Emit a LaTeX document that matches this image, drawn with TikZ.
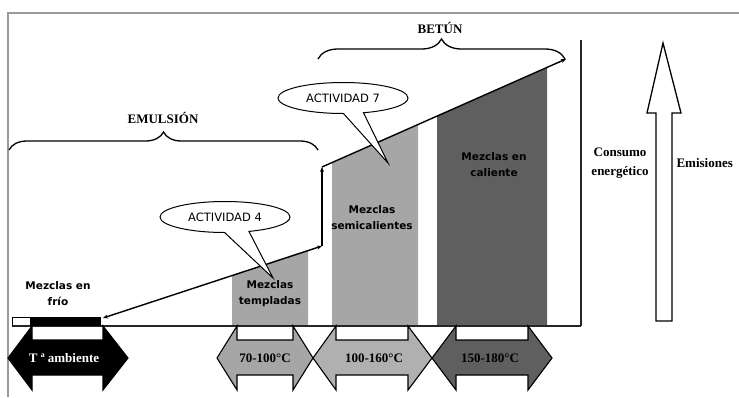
\documentclass[tikz,border=0pt]{standalone}
\usepackage{fontspec}
\setmainfont{Liberation Serif}
\newfontfamily\gillfont{DejaVu Sans}
\usetikzlibrary{shapes.geometric,shapes.callouts,decorations.pathreplacing,arrows.meta}
\definecolor{midgray}{HTML}{A6A6A6}
\definecolor{lightgraytwo}{HTML}{B0B0B0}
\definecolor{darkgraytwo}{HTML}{5F5F5F}
\definecolor{framegray}{HTML}{9A9A9A}
\newcommand\tarrow[5]{\filldraw[temparrow, fill=#5] (#1,358) -- (#2,326) -- (#2,340) -- (#3,340) -- (#3,326) -- (#4,358) -- (#3,390) -- (#3,375) -- (#2,375) -- (#2,390) -- cycle;}
\begin{document}
\begin{tikzpicture}[x=1pt,y=-1pt,
  axis/.style={line width=1.3pt, black!85},
  sanslabel/.style={font=\gillfont\bfseries\fontsize{10.5}{16}\selectfont, align=center},
  seriflabel/.style={font=\bfseries\fontsize{13}{19}\selectfont, align=center},
  trend/.style={line width=1.4pt},
  tipend/.style={-{Stealth[length=5pt,width=4pt]}},
  bubble/.style={ellipse callout, draw, fill=white, line width=1pt, minimum width=130pt, minimum height=31pt, inner sep=0pt, font=\gillfont\fontsize{11.5}{13}\selectfont},
  bracket/.style={decorate, decoration={brace, amplitude=#1}, line width=1.3pt},
  temparrow/.style={draw, line width=1.1pt},
]
\useasboundingbox (0,0) rectangle (739,397);
% frame
\draw[framegray, line width=1.5pt] (8,397) -- (8,13) -- (739,13);
% bars
\fill[midgray] (232,326) -- (232,275.2) -- (308,250) -- (308,326) -- cycle;
\fill[midgray] (332,326) -- (332,162.6) -- (418,124.7) -- (418,326) -- cycle;
\fill[darkgraytwo] (437,326) -- (437,116.3) -- (547,67.9) -- (547,326) -- cycle;
% axes
\draw[axis] (12,326) -- (581,326);
\draw[axis] (581,40) -- (581,326);
% cold bar
\draw[line width=1pt] (12,317) -- (32,317);
\draw[line width=1pt] (12,317) -- (12,326);
\fill[black] (30,316.5) rectangle (101,326);
% trend line
\coordinate (p0) at (103,318);
\coordinate (p1) at (322,246);
\coordinate (p2) at (322,167);
\coordinate (p3) at (566,59);
\draw[trend, {Stealth[length=5pt,width=4pt]}-{Stealth[length=5pt,width=4pt]}] (p0) -- (p1);
\draw[trend, tipend] (p1) -- (p2);
\draw[trend, tipend] (p2) -- (p3);
% braces
\draw[bracket=18pt] (9,150) -- (318,150);
\node[seriflabel] (emul) at (163,118) {EMULSIÓN};
\draw[bracket=20pt] (318,59) -- (565,59);
\node[seriflabel] (betun) at (440,28) {BETÚN};
% callouts
\node[bubble, callout absolute pointer={(273,278)}, callout pointer arc=22] (act4) at (225,217) {ACTIVIDAD 4};
\node[bubble, callout absolute pointer={(388,163)}, callout pointer arc=18] (act7) at (343,98) {ACTIVIDAD 7};
% bar labels
\node[sanslabel] (frio) at (58,294) {Mezclas en\\frío};
\node[sanslabel] (templ) at (270,294) {Mezclas\\templadas};
\node[sanslabel] (semi) at (372,218) {Mezclas\\semicalientes};
\node[sanslabel] (cal) at (494,165) {Mezclas en\\caliente};
% big arrow
\draw[line width=1.3pt, fill=white] (656,321) -- (656,113) -- (647,113) -- (663,43) -- (681,113) -- (672,113) -- (672,321) -- cycle;
\node[seriflabel] (cons) at (620,163) {Consumo\\energético};
\node[seriflabel, anchor=west] (emis) at (673,163) {Emisiones};
% temperature arrows
\tarrow{8}{32}{103}{128}{black}
\tarrow{217}{237}{293}{313}{midgray}
\tarrow{313}{336}{408}{432}{lightgraytwo}
\tarrow{432}{456}{528}{552}{darkgraytwo}
\node[seriflabel, white] (tamb) at (64,358) {T ª ambiente};
\node[seriflabel] (t1) at (265,358) {70-100°C};
\node[seriflabel] (t2) at (374,358) {100-160°C};
\node[seriflabel] (t3) at (490,358) {150-180°C};
\end{tikzpicture}
\end{document}
